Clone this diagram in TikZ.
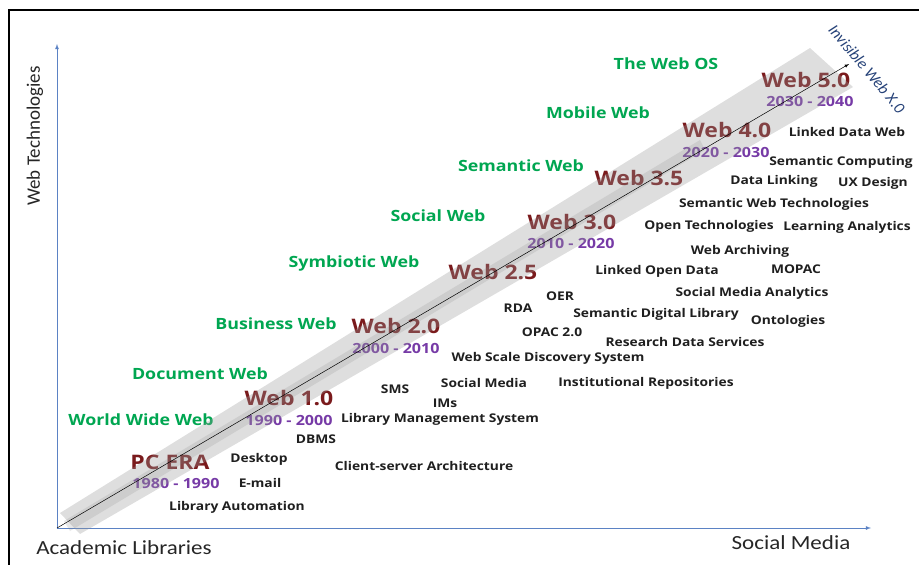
\documentclass[tikz,border=0pt]{standalone}
\usepackage{fontspec}
\setmainfont{Open Sans}[FakeStretch=1.15]
\newfontfamily\axisfont{Carlito}[FakeStretch=1.15]
\newfontfamily\axisfontup{Carlito}
\definecolor{webgreen}{RGB}{0,166,81}
\definecolor{eramaroon}{RGB}{122,26,28}
\definecolor{yearpurple}{RGB}{118,58,166}
\definecolor{axisblue}{RGB}{91,130,196}
\definecolor{xblue}{RGB}{38,66,120}
\begin{document}
\begin{tikzpicture}[>=latex, x=1pt, y=-1pt,
  webname/.style={text=webgreen, font=\fontsize{15.5}{16}\selectfont\bfseries, inner sep=0pt},
  era/.style={text=eramaroon, font=\fontsize{20}{20}\selectfont\bfseries, inner sep=0pt},
  years/.style={text=yearpurple, font=\fontsize{14}{14}\selectfont\bfseries, inner sep=0pt},
  tech/.style={text=black!88, font=\fontsize{12}{12}\selectfont\bfseries, inner sep=0pt},
  axislabel/.style={text=black!85, font=\fontsize{20}{20}\axisfont, inner sep=0pt}]
			\useasboundingbox (0,0) rectangle (919,565);
			\clip (0,0) rectangle (919,565);

			% Frame
			\draw[line width=1.5pt] (9,580) |- (935,10);

			% Axes
			\coordinate (o) at (57,528);
			\coordinate (ytip) at (57,44);
			\coordinate (xtip) at (871,528);
			\draw[->, axisblue, line width=0.8pt] (o) to (ytip);
			\draw[->, axisblue, line width=0.8pt] (o) to (xtip);
			\node[axislabel, font=\fontsize{19}{19}\axisfontup, rotate=90] (ylab) at (35,136) {Web Technologies};
			\node[axislabel] (xlab0) at (124,548) {Academic Libraries};
			\node[axislabel] (xlab) at (791,543) {Social Media};

			% Web names
			\node[webname] (g8) at (666,64) {The Web OS};
			\node[webname] (g7) at (598,113) {Mobile Web};
			\node[webname] (g6) at (521,166) {Semantic Web};
			\node[webname] (g5) at (438,216) {Social Web};
			\node[webname] (g4) at (354,263) {Symbiotic Web};
			\node[webname] (g3) at (276,324) {Business Web};
			\node[webname] (g2) at (200,374) {Document Web};
			\node[webname] (g1) at (141,420) {World Wide Web};

			% Eras
			\node[era] (w7) at (806,80) {Web 5.0};
			\node[era] (w6) at (727,130) {Web 4.0};
			\node[era] (w5) at (639,178) {Web 3.5};
			\node[era] (w4) at (572,222) {Web 3.0};
			\node[era] (w3) at (493,272) {Web 2.5};
			\node[era] (w2) at (396,326) {Web 2.0};
			\node[era] (w1) at (289,398) {Web 1.0};
			\node[era] (w0) at (170,462) {PC ERA};

			% Years
			\node[years] (y5) at (810,101) {2030 - 2040};
			\node[years] (y4) at (726,152) {2020 - 2030};
			\node[years] (y3) at (571,243) {2010 - 2020};
			\node[years] (y2) at (396,348) {2000 - 2010};
			\node[years] (y1) at (289,420) {1990 - 2000};
			\node[years] (y0) at (176,483) {1980 - 1990};

			% Technologies
			\node[tech] (ldw) at (847,132) {Linked Data Web};
			\node[tech] (sc) at (841,162) {Semantic Computing};
			\node[tech] (dl) at (774,181) {Data Linking};
			\node[tech] (ux) at (873,183) {UX Design};
			\node[tech] (swt) at (774,204) {Semantic Web Technologies};
			\node[tech] (ot) at (709,226) {Open Technologies};
			\node[tech] (la) at (847,227) {Learning Analytics};
			\node[tech] (wa) at (740,251) {Web Archiving};
			\node[tech] (lod) at (657,271) {Linked Open Data};
			\node[tech] (mopac) at (796,269) {MOPAC};
			\node[tech] (sma) at (752,293) {Social Media Analytics};
			\node[tech] (oer) at (560,296) {OER};
			\node[tech] (rda) at (518,308) {RDA};
			\node[tech] (sdl) at (656,314) {Semantic Digital Library};
			\node[tech] (onto) at (788,321) {Ontologies};
			\node[tech] (opac) at (552,332) {OPAC 2.0};
			\node[tech] (rds) at (685,342) {Research Data Services};
			\node[tech] (wsds) at (548,358) {Web Scale Discovery System};
			\node[tech] (sms) at (395,389) {SMS};
			\node[tech] (sm) at (484,383) {Social Media};
			\node[tech] (ir) at (646,383) {Institutional Repositories};
			\node[tech] (ims) at (445,403) {IMs};
			\node[tech] (lms) at (440,419) {Library Management System};
			\node[tech] (dbms) at (316,439) {DBMS};
			\node[tech] (desk) at (259,459) {Desktop};
			\node[tech] (csa) at (424,466) {Client-server Architecture};
			\node[tech] (mail) at (260,483) {E-mail};
			\node[tech] (la0) at (237,507) {Library Automation};

			% Band
			\fill[black!40, fill opacity=0.32] (60,513) -- (810,48) -- (853,87) -- (80,534) -- cycle;
			\fill[black!50, fill opacity=0.18] (64,521) -- (700,140) -- (705,150) -- (70,531) -- cycle;

			% Trend line
			\coordinate (top) at (849,64);
			\draw[->, line width=0.5pt] (o) to (top);
			\node[text=xblue, font=\fontsize{16}{16}\axisfontup\itshape, rotate=-50, inner sep=0pt] (xweb) at (867,69) {Invisible Web X.0};

		\end{tikzpicture}
\end{document}
